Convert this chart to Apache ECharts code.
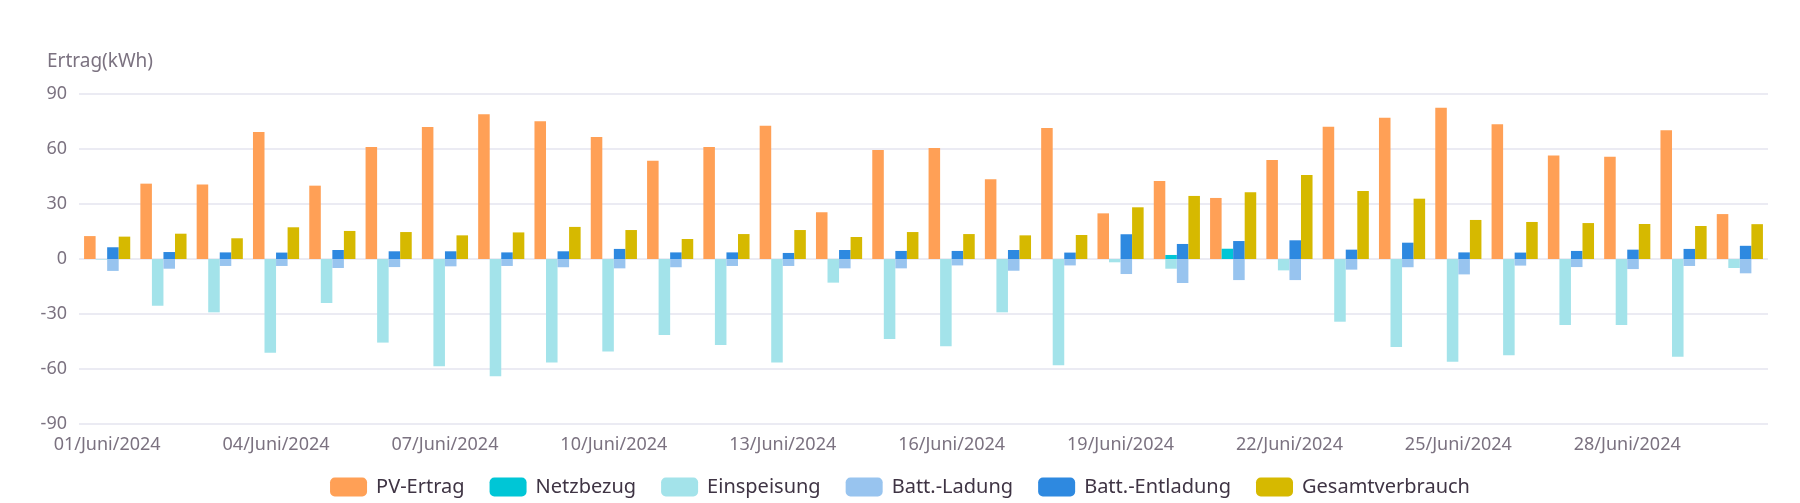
<!DOCTYPE html>
<html>
<head>
<meta charset="utf-8">
<script src="https://cdn.jsdelivr.net/npm/echarts@6/dist/echarts.min.js"></script>
<style>
  html, body { margin: 0; padding: 0; background: #fff; }
  #chart { width: 1800px; height: 503px; }
</style>
</head>
<body>
<div id="chart"></div>
<script>
const days = []
for (let d = 1; d <= 30; d++) days.push(String(d).padStart(2, '0') + '/Juni/2024')

const pvErtrag = [12.5, 41.1, 40.7, 69.3, 40.0, 61.1, 72.0, 78.9, 75.1, 66.5,
  53.6, 61.1, 72.7, 25.5, 59.5, 60.5, 43.5, 71.5, 24.9, 42.5,
  33.3, 54.0, 72.2, 77.1, 82.5, 73.5, 56.4, 55.8, 70.2, 24.5]
const netzbezug = [0, 0, 0, 0, 0, 0, 0, 0, 0, 0,
  0, 0, 0, 0, 0, 0, 0, 0, 0, 2.2,
  5.6, 0, 0, 0, 0, 0, 0, 0, 0, 0]
const einspeisung = [-0.3, -25.5, -29.1, -51.1, -24.0, -45.6, -58.5, -64.0, -56.5, -50.5,
  -41.5, -46.9, -56.4, -12.9, -43.6, -47.6, -29.1, -58.0, -1.8, -5.3,
  0, -6.2, -34.2, -48.0, -56.0, -52.5, -36.0, -36.0, -53.3, -4.9]
const battLadung = [-6.5, -5.3, -3.8, -3.8, -4.9, -4.4, -4.0, -3.8, -4.5, -5.1,
  -4.5, -3.8, -3.8, -5.1, -5.1, -3.5, -6.4, -3.5, -8.2, -13.1,
  -11.5, -11.5, -5.8, -4.5, -8.4, -3.6, -4.4, -5.5, -3.8, -7.8]
const battEntladung = [6.4, 3.8, 3.6, 3.5, 4.9, 4.2, 4.2, 3.6, 4.2, 5.5,
  3.6, 3.6, 3.3, 4.9, 4.4, 4.4, 4.9, 3.5, 13.5, 8.2,
  9.8, 10.2, 5.1, 8.9, 3.6, 3.5, 4.4, 5.1, 5.5, 7.2]
const gesamtverbrauch = [12.2, 13.8, 11.3, 17.3, 15.3, 14.7, 12.9, 14.5, 17.5, 15.8,
  10.9, 13.6, 15.8, 12.0, 14.7, 13.6, 12.9, 13.1, 28.2, 34.4,
  36.4, 45.8, 37.1, 32.9, 21.3, 20.2, 19.6, 19.1, 18.0, 19.0]

const yTicks = { min: -90, max: 90, interval: 30 }

const labelColor = '#7b7280'
const font = 'Noto Sans'

function bar(name, data, color, stack) {
  const s = { name, type: 'bar', data, itemStyle: { color }, barGap: '0%', barCategoryGap: '18%' }
  if (stack) s.stack = stack
  return s
}

const chart = echarts.init(document.getElementById('chart'))
chart.setOption({
  animation: false,
  textStyle: { fontFamily: font },
  title: {
    text: 'Ertrag(kWh)',
    left: 47,
    top: 52,
    padding: 0,
    textStyle: { fontSize: 19, fontWeight: 'normal', color: labelColor, fontFamily: font }
  },
  grid: { left: 79, right: 32, top: 94, bottom: 79 },
  legend: {
    top: 472,
    left: 'center',
    icon: 'roundRect',
    itemWidth: 37,
    itemHeight: 19,
    itemGap: 25,
    textStyle: { fontSize: 20, color: '#3f3444', fontFamily: font, padding: [0, 0, 0, 4] }
  },
  xAxis: {
    type: 'category',
    data: days,
    axisLine: { show: false },
    axisTick: { show: false },
    axisLabel: { interval: 2, color: labelColor, fontSize: 18, margin: 12 }
  },
  yAxis: {
    type: 'value',
    min: yTicks.min,
    max: yTicks.max,
    interval: yTicks.interval,
    axisLabel: { color: labelColor, fontSize: 18, margin: 12 },
    splitLine: { lineStyle: { color: '#e4e4ef', width: 1.5 } }
  },
  series: [
    bar('PV-Ertrag', pvErtrag, '#ffa056'),
    bar('Netzbezug', netzbezug, '#00c6d6', 'netz'),
    bar('Einspeisung', einspeisung, '#a3e3ea', 'netz'),
    bar('Batt.-Ladung', battLadung, '#98c4ef', 'batt'),
    bar('Batt.-Entladung', battEntladung, '#2e89e0', 'batt'),
    bar('Gesamtverbrauch', gesamtverbrauch, '#d6b900')
  ]
})
</script>
</body>
</html>
